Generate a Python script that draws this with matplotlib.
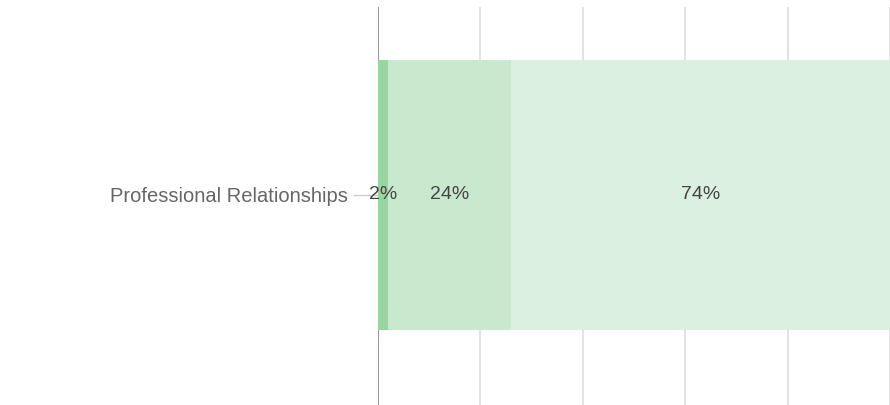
import matplotlib
matplotlib.use("Agg")
import matplotlib.pyplot as plt

categories = ["Professional Relationships"]
segment_values = [2, 24, 74]
segment_labels = ["2%", "24%", "74%"]
segment_colors = ["#99d5a0", "#c9e9cf", "#dcf0e0"]
x_ticks = [0, 20, 40, 60, 80, 100]

plt.rcParams['font.family'] = ['Liberation Sans', 'DejaVu Sans']

fig = plt.figure(figsize=(8.9, 4.05), dpi=100)
W, H = 890, 405
ax = fig.add_axes([378 / W, 0, (890 - 378) / W, (405 - 7) / H])

left = 0
for v, lab, c in zip(segment_values, segment_labels, segment_colors):
    ax.barh(0, v, left=left, height=1.0, color=c, zorder=2)
    ax.text(left + v / 2, 0, lab, ha="center", va="center", fontsize=14,
            color="#444444", zorder=3)
    left += v

ax.set_xlim(0, 100)
ax.set_ylim(-0.778, 0.696)
for t in x_ticks:
    ax.axvline(t, color="#999999" if t == 0 else "#dddddd", lw=1.5 if t == 0 else 1.2, zorder=1)

ax.set_xticks([])
ax.set_yticks([0])
ax.set_yticklabels(categories, fontsize=14.5, color="#666666")
ax.tick_params(axis="y", length=18, width=1, color="#cccccc", pad=4)
for s in ax.spines.values():
    s.set_visible(False)

fig.savefig("out.png", dpi=100)
